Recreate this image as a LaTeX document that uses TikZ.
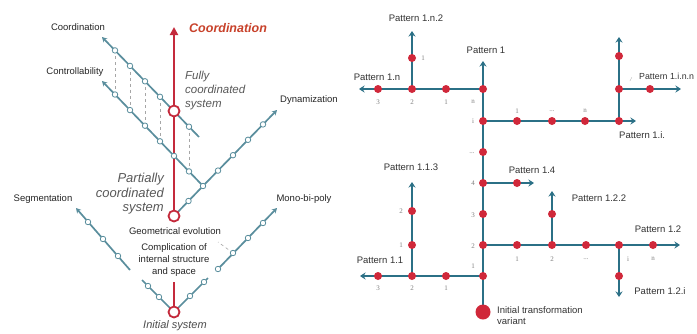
\documentclass[tikz,border=0pt]{standalone}
\usepackage{fontspec}
\setmainfont{Liberation Sans}
\newfontfamily\numfont{Liberation Serif}
\usetikzlibrary{arrows.meta}
\definecolor{lteal}{HTML}{5A8E9D}
\definecolor{dteal}{HTML}{2B7086}
\definecolor{lred}{HTML}{C42A3C}
\definecolor{dotred}{HTML}{D0283A}
\definecolor{ored}{HTML}{C8412A}
\begin{document}
\begin{tikzpicture}[x=1pt,y=-1pt,
  tline/.style={draw=lteal, line width=1.7pt},
  tarrow/.style={tline, -{Stealth[length=5pt,width=5.5pt]}},
  ocirc/.style={circle, draw=lteal, fill=white, line width=0.8pt, inner sep=0pt, minimum size=5.5pt},
  rcirc/.style={circle, draw=lred, fill=white, line width=1.8pt, inner sep=0pt, minimum size=11pt},
  redline/.style={draw=lred, line width=2.6pt},
  dashv/.style={draw=gray!70, dashed, line width=0.6pt},
  lbl/.style={font=\fontsize{9.5}{11.5}\selectfont, text=black!85, inner sep=0pt, align=center},
  ital/.style={font=\fontsize{11.5}{13.5}\selectfont\itshape, text=black!65, inner sep=0pt},
  rline/.style={draw=dteal, line width=2pt},
  rarrow/.style={rline, -{Stealth[length=5.5pt,width=7pt]}},
  rdot/.style={circle, fill=dotred, inner sep=0pt, minimum size=8pt},
  num/.style={font=\numfont\fontsize{7}{8}\selectfont, text=gray, inner sep=0pt},
  plbl/.style={font=\fontsize{9.5}{11.5}\selectfont, text=black!80, inner sep=0pt, align=left}
]
\useasboundingbox (0,0) rectangle (697,333);
\fill[white] (0,0) rectangle (697,333);

% ================= LEFT DIAGRAM =================
% line A (Coordination)
\coordinate (A0) at (102,37);
\coordinate (A1) at (115,50.4);
\coordinate (A2) at (130,65.9);
\coordinate (A3) at (145,81.3);
\coordinate (A4) at (160,96.8);
\coordinate (FC) at (174,111);
\coordinate (A5) at (189,126.7);
\coordinate (Aend) at (199,137);
% line B (Controllability)
\coordinate (B0) at (102,81);
\coordinate (B1) at (115,94.5);
\coordinate (B2) at (130,110.1);
\coordinate (B3) at (145,125.7);
\coordinate (B4) at (160,141.3);
\coordinate (B5) at (174,155.9);
\coordinate (B6) at (189,171.4);
\coordinate (V) at (203,186);
% Dynamization
\coordinate (D1) at (218,170.6);
\coordinate (D2) at (233,155.2);
\coordinate (D3) at (248,139.8);
\coordinate (D4) at (263,124.4);
\coordinate (Dtip) at (277,110);
\coordinate (VP) at (188.5,201);
% red axis
\coordinate (Ctip) at (174,27);
\coordinate (PC) at (174,216);
\coordinate (IS) at (174,312);
\coordinate (IStop) at (174,282);
% lower V
\coordinate (L0) at (142,280);
\coordinate (L1) at (148,286);
\coordinate (L2) at (159,297);
\coordinate (R1) at (190,296);
\coordinate (R2) at (204,282);
\coordinate (Rend) at (208,278);
% Segmentation
\coordinate (S0) at (130,270);
\coordinate (S1) at (118,256);
\coordinate (S2) at (103,239);
\coordinate (S3) at (88,222);
\coordinate (Stip) at (76,208);
% Mono-bi-poly
\coordinate (M0) at (218,269);
\coordinate (M1) at (233,253);
\coordinate (M2) at (248,238);
\coordinate (M3) at (263,223);
\coordinate (Mtip) at (277,208);
\coordinate (Mdash) at (218,242);

% dashed verticals
\foreach \u/\v in {A1/B1,A2/B2,A3/B3,A4/B4,A5/B6}
  \draw[dashv] (\u) -- (\v);
\draw[dashv] (M1) -- (Mdash);

% teal lines
\draw[tarrow] (Aend) -- (A0);
\draw[tarrow] (V) -- (B0);
\draw[tarrow] (V) -- (Dtip);
\draw[tline] (V) -- (PC);
\draw[tarrow] (S0) -- (Stip);
\draw[tarrow] (M0) -- (Mtip);
\draw[tline] (L0) -- (IS) -- (Rend);

% red axis
\draw[redline, -{Triangle[length=8pt,width=8pt]}] (PC) -- (Ctip);
\draw[redline] (IStop) -- (IS);

% open circles
\foreach \p in {A1,A2,A3,A4,A5,B1,B2,B3,B4,B5,B6,V,D1,D2,D3,D4,VP,L1,L2,R1,R2,S1,S2,S3,M0,M1,M2,M3}
  \node[ocirc] (c\p) at (\p) {};
\node[rcirc] (cFC) at (FC) {};
\node[rcirc] (cPC) at (PC) {};
\node[rcirc] (cIS) at (IS) {};

% left labels
\node[lbl] (tCoord) at (78,27) {Coordination};
\node[lbl] (tCtrl) at (75,72) {Controllability};
\node[lbl] (tDyn) at (309,100) {Dynamization};
\node[lbl] (tSeg) at (43,199) {Segmentation};
\node[lbl] (tMono) at (304,199) {Mono-bi-poly};
\node[lbl] (tGeo) at (175,231) {Geometrical evolution};
\node[lbl, font=\fontsize{9.5}{12}\selectfont] (tComp) at (174,260) {Complication of\\internal structure\\and space};
\node[font=\fontsize{12.5}{14}\selectfont\bfseries\itshape, text=ored, anchor=west, inner sep=0pt] (tCoordR) at (189,28) {Coordination};
\node[ital, anchor=north west, align=left, font=\fontsize{11.5}{13.8}\selectfont\itshape] (tFully) at (185,71) {Fully\\coordinated\\system};
\node[ital, anchor=north east, align=right, font=\fontsize{13}{14.6}\selectfont\itshape] (tPart) at (164,173) {Partially\\coordinated\\system};
\node[ital, font=\fontsize{11}{13}\selectfont\itshape, text=black!70] (tInit) at (175,326) {Initial system};

% ================= RIGHT DIAGRAM =================
\coordinate (T0) at (483,312);
\coordinate (T1) at (483,276);
\coordinate (T2) at (483,245);
\coordinate (T3) at (483,214);
\coordinate (T4) at (483,183);
\coordinate (T5) at (483,152);
\coordinate (Ti) at (483,121);
\coordinate (Tn) at (483,89);
\coordinate (Ttip) at (483,61);
% branch n
\coordinate (N1) at (446,89);
\coordinate (N2) at (412,89);
\coordinate (N3) at (378,89);
\coordinate (Ntip) at (359,89);
\coordinate (N21) at (412,58);
\coordinate (N2tip) at (412,31);
% branch i
\coordinate (I1) at (517,121);
\coordinate (I2) at (552,121);
\coordinate (I3) at (585,121);
\coordinate (Ij) at (619,121);
\coordinate (Itip) at (636,121);
\coordinate (Ij1) at (619,89);
\coordinate (Ij2) at (619,56);
\coordinate (Ijtip) at (619,37);
\coordinate (Ih) at (650,89);
\coordinate (Ihtip) at (681,89);
% branch 4
\coordinate (F1) at (517,183);
\coordinate (Ftip) at (534,183);
% branch 2
\coordinate (W1) at (517,245);
\coordinate (W2) at (552,245);
\coordinate (W3) at (586,245);
\coordinate (W4) at (619,245);
\coordinate (W5) at (653,245);
\coordinate (Wtip) at (680,245);
\coordinate (W2u) at (552,214);
\coordinate (W2tip) at (552,191);
\coordinate (W4d) at (619,276);
\coordinate (W4tip) at (619,297);
% branch 1
\coordinate (L1a) at (446,276);
\coordinate (L2a) at (412,276);
\coordinate (L3a) at (378,276);
\coordinate (Ltip) at (360,276);
\coordinate (L21) at (412,245);
\coordinate (L22) at (412,211);
\coordinate (L2tip) at (412,182);

\draw[rarrow] (T0) -- (Ttip);
\draw[rarrow] (Tn) -- (Ntip);
\draw[rarrow] (N2) -- (N2tip);
\draw[rarrow] (Ti) -- (Itip);
\draw[rarrow] (Ij) -- (Ijtip);
\draw[rarrow] (Ij1) -- (Ihtip);
\draw[rarrow] (T4) -- (Ftip);
\draw[rarrow] (T2) -- (Wtip);
\draw[rarrow] (W2) -- (W2tip);
\draw[rarrow] (W4) -- (W4tip);
\draw[rarrow] (T1) -- (Ltip);
\draw[rarrow] (L2a) -- (L2tip);

\node[circle, fill=dotred, inner sep=0pt, minimum size=15pt] (dT0) at (T0) {};
\foreach \p in {T1,T2,T3,T4,T5,Ti,Tn,N1,N2,N3,N21,I1,I2,I3,Ij,Ij1,Ij2,Ih,F1,W1,W2,W3,W4,W5,W2u,W4d,L1a,L2a,L3a,L21,L22}
  \node[rdot] (d\p) at (\p) {};

% number labels
\node[num] (nt1) at (473,266) {1};
\node[num] (nt2) at (473,246) {2};
\node[num] (nt3) at (473,215) {3};
\node[num] (nt4) at (473,183) {4};
\node[num] (nt5) at (472,153) {...};
\node[num] (nti) at (473,121) {i};
\node[num] (ntn) at (473,102) {n};
\node[num] (nn3) at (378,102) {3};
\node[num] (nn2) at (412,102) {2};
\node[num] (nn1) at (446,102) {1};
\node[num] (nn21) at (423,58) {1};
\node[num] (ni1) at (517,111) {1};
\node[num] (ni2) at (552,111) {...};
\node[num] (ni3) at (585,111) {n};
\node[num, font=\numfont\fontsize{6}{7}\selectfont\itshape] (nij) at (631,80) {/};
\node[num] (nw1) at (517,259) {1};
\node[num] (nw2) at (552,259) {2};
\node[num] (nw3) at (586,259) {...};
\node[num] (nw4) at (628,259) {i};
\node[num] (nw5) at (653,259) {n};
\node[num] (nl3) at (378,288) {3};
\node[num] (nl2) at (412,288) {2};
\node[num] (nl1) at (446,288) {1};
\node[num] (nl21) at (401,245) {1};
\node[num] (nl22) at (401,211) {2};

% pattern labels
\node[plbl] (p1) at (486,50) {Pattern 1};
\node[plbl] (p1n) at (377,77) {Pattern 1.n};
\node[plbl] (p1n2) at (416,18) {Pattern 1.n.2};
\node[plbl, anchor=west, font=\fontsize{8.8}{11}\selectfont] (p1inn) at (639,76) {Pattern 1.i.n.n};
\node[plbl, anchor=west] (p1i) at (619,135) {Pattern 1.i.};
\node[plbl] (p14) at (532,170) {Pattern 1.4};
\node[plbl] (p122) at (599,198) {Pattern 1.2.2};
\node[plbl] (p12) at (658,229) {Pattern 1.2};
\node[plbl] (p12i) at (660,291) {Pattern 1.2.i};
\node[plbl] (p113) at (411,167) {Pattern 1.1.3};
\node[plbl] (p11) at (380,260) {Pattern 1.1};
\node[plbl, anchor=north west, font=\fontsize{9.5}{11.5}\selectfont] (pinit) at (497,306) {Initial transformation\\variant};
\end{tikzpicture}
\end{document}
